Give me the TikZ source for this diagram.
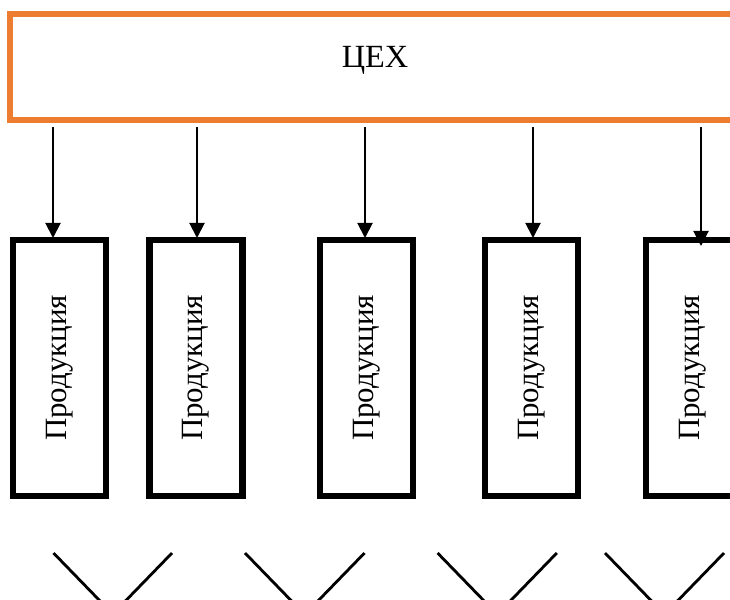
\documentclass[tikz,border=0pt]{standalone}
\usepackage{fontspec}
\usepackage{graphicx}
\setmainfont{Liberation Serif}
\usetikzlibrary{arrows.meta}

\definecolor{cehorange}{RGB}{237,125,49}

\tikzset{
cehbox/.style={draw=cehorange, line width=4.4pt, rectangle,
  minimum width=18.25cm, minimum height=2.65cm, text depth=0.5cm,
  font=\fontsize{23}{27}\selectfont},
prodbox/.style={draw=black, line width=4.4pt, rectangle, inner sep=0pt,
  minimum width=2.325cm, minimum height=6.4cm,
  font=\fontsize{22}{26}\selectfont},
arr/.style={line width=1.4pt, -{Triangle[width=0.38cm,length=0.38cm]},
  shorten <=3pt},
vline/.style={line width=2pt}
}

\begin{document}
\begin{tikzpicture}[x=0.025cm,y=-0.025cm]

\useasboundingbox (0,0) rectangle (730,599);
\clip (0,0) rectangle (730,599);

% Bloc atelier
\node[cehbox] (ceh) at (375,67) {ЦЕХ};

% Produits
\foreach \i/\x in {1/59.5,2/196,3/366.5,4/531.5,5/692.5}
{
\node[prodbox] (p\i) at (\x,368) {\rotatebox{90}{Продукция}};
}

% Fleches
\foreach \i/\x/\y in {1/53/238,2/197/238,3/365/238,4/533/238,5/701/246}
{
\coordinate (a\i) at (\x,\y);
\draw[arr] (a\i |- ceh.south) -- (a\i);
}

% Lignes du bas
\foreach \l/\r in {53.5/172,245/364.5,437.6/556.8,605/724}
{
\draw[vline] (\l,553) -- (\l+65,620);
\draw[vline] (\r,553) -- (\r-65,620);
}

\end{tikzpicture}
\end{document}
